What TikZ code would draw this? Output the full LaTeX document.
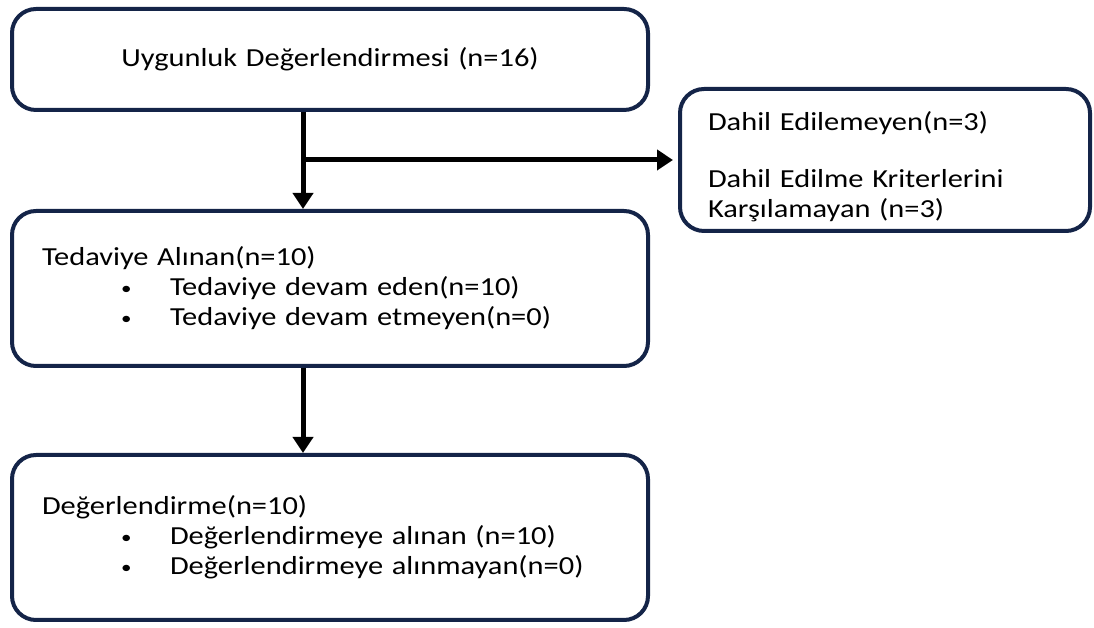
\documentclass[tikz,border=0pt]{standalone}
\usepackage{fontspec}
\setmainfont{Carlito}[FakeStretch=1.17]
\usepackage{xcolor}
\usepackage{tikz}
\usetikzlibrary{arrows.meta}
\usetikzlibrary{positioning}
\definecolor{lacivert}{RGB}{20,36,72}

\newcommand{\madde}[1]{\hspace*{79pt}\makebox[49pt][l]{\raisebox{1pt}{\fontsize{18}{18}\selectfont\textbullet}}#1}

\begin{document}
\begin{tikzpicture}[x=1pt,y=1pt,
    kutu/.style={draw=lacivert, line width=4pt, rounded corners=24pt,
      inner xsep=30pt, inner ysep=0pt, text width=576pt,
      font=\fontsize{26}{30}\selectfont},
    ok/.style={draw=black, line width=5pt, -{Triangle[length=16pt,width=20pt]}}]
  \useasboundingbox (0,0) rectangle (1094,628);

  % main flow
  \node[kutu, align=center, minimum height=101pt] (uygunluk) at (330,568.5)
    {Uygunluk Değerlendirmesi (n=16)};
  \node[kutu, align=left, minimum height=155pt, below=97pt of uygunluk] (tedavi)
    {Tedaviye Alınan(n=10)\\
     \madde{Tedaviye devam eden(n=10)}\\
     \madde{Tedaviye devam etmeyen(n=0)}};
  \node[kutu, align=left, minimum height=165pt, below=85pt of tedavi] (degerlendirme)
    {Değerlendirme(n=10)\\
     \madde{Değerlendirmeye alınan (n=10)}\\
     \madde{Değerlendirmeye alınmayan(n=0)}};

  % excluded, on the side
  \node[kutu, align=left, minimum height=142pt, inner xsep=28pt, text width=354pt] (dahil) at (885,468)
    {\rule{0pt}{32pt}Dahil Edilemeyen(n=3)\\[27pt]
     Dahil Edilme Kriterlerini\\
     Karşılamayan (n=3)};

  % arrows
  \draw[ok] ([xshift=-27pt]uygunluk.south) -- ([xshift=-27pt]tedavi.north);
  \coordinate (dal) at ([xshift=-27pt]uygunluk.south |- dahil.west);
  \draw[ok] (dal) -- ([xshift=-5pt]dahil.west);
  \draw[ok] ([xshift=-27pt]tedavi.south) -- ([xshift=-27pt]degerlendirme.north);
\end{tikzpicture}
\end{document}
